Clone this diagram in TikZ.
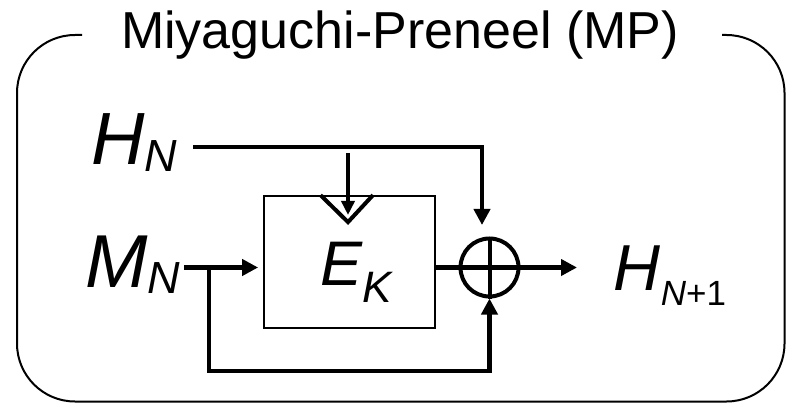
\documentclass[tikz,border=0pt]{standalone}
\usepackage{fontspec}
\setmainfont{Liberation Sans}
\usetikzlibrary{arrows.meta,calc}
\tikzset{
  conn/.style={line width=4.5pt},
  arr/.style={conn,-{Triangle[length=16pt,width=16pt]}},
  arrsmall/.style={line width=4pt,-{Triangle[length=14pt,width=13pt]}},
  frame/.style={line width=2pt,rounded corners=58pt},
  lbl/.style={inner sep=0pt,anchor=base},
}
\newcommand{\mylab}[5]{{\fontsize{#2}{#2}\selectfont\itshape #1}\raisebox{-#5pt}{\fontsize{#4}{#4}\selectfont #3}}
\begin{document}
\begin{tikzpicture}[x=1pt,y=-1pt]
\useasboundingbox (0,0) rectangle (786,403);
% outer frame
\draw[frame] (82,35) -- (17,35) -- (17,401.5) -- (784.5,401.5) -- (784.5,35) -- (722,35);
\node[lbl] (title) at (400,49) {\fontsize{52}{52}\selectfont Miyaguchi-Preneel (MP)};
% labels
\node[lbl] (hn) at (134.5,165) {\mylab{H}{74}{\itshape N}{45}{7}};
\node[lbl] (mn) at (132.5,287) {\mylab{M}{75}{\itshape N}{45}{6}};
\node[lbl] (hn1) at (670,290) {\mylab{H}{65}{{\itshape N}+1}{35}{15}};
% block
\node[draw,line width=1.8pt,minimum width=171pt,minimum height=132pt,inner sep=0pt] (ek) at (349.5,262) {};
\node[lbl] (ektext) at (356,285) {\mylab{E}{63}{\itshape K}{44}{17}};
\draw[line width=4pt] ([xshift=-29pt]ek.north) -- ([xshift=-1.5pt,yshift=-27pt]ek.north) -- ([xshift=23.5pt]ek.north);
% xor
\node[circle,draw,line width=4pt,minimum size=58pt,inner sep=0pt] (xor) at (489.5,267.5) {};
\draw[line width=4pt] (xor.north) -- (xor.south);
% coordinates
\coordinate (hnout) at (193,147);
\coordinate (xortop) at (482,225);
\coordinate (keyin) at (348,153);
\coordinate (keytip) at (348,215);
\coordinate (mnout) at (184,267.5);
\coordinate (fb) at (209,267.5);
\coordinate (fbbot) at (209,371);
\coordinate (hout) at (577,267.5);
% connectors
\draw[arr] (hnout) -| (xortop);
\draw[arrsmall] (keyin) -- (keytip);
\draw[arr,shorten >=5pt] (mnout) -- (mnout -| ek.west);
\draw[arr] (fb) -- (fbbot) -| (xor.south);
\draw[arr] (ek.east |- xor.west) -- (hout);
\end{tikzpicture}
\end{document}
